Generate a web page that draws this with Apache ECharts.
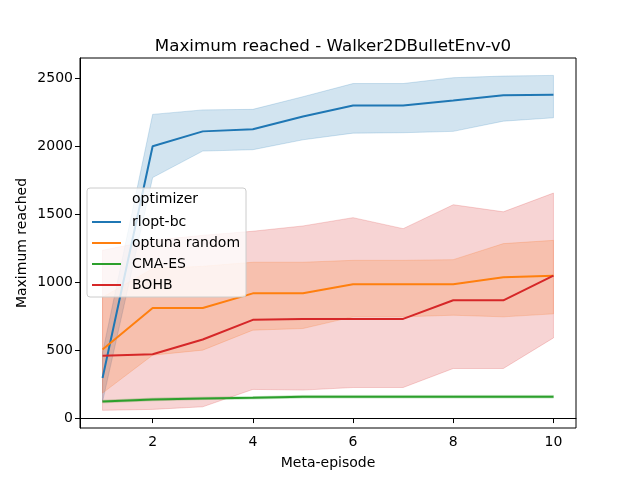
<!DOCTYPE html>
<html>
<head>
<meta charset="utf-8">
<script src="https://cdn.jsdelivr.net/npm/echarts@6/dist/echarts.min.js"></script>
<style>
  html, body { margin: 0; background: #fff; }
  #chart { width: 640px; height: 480px; }
</style>
</head>
<body>
<div id="chart"></div>
<script>
// data
const episodes = [1, 2, 3, 4, 5, 6, 7, 8, 9, 10];
const xTicks = [2, 4, 6, 8, 10];
const yTicks = [0, 500, 1000, 1500, 2000, 2500];

const rloptMean = [295, 2000, 2110, 2125, 2220, 2300, 2300, 2337, 2375, 2380];
const rloptLow  = [120, 1770, 1965, 1975, 2048, 2097, 2100, 2110, 2185, 2210];
const rloptHigh = [480, 2235, 2268, 2272, 2365, 2462, 2462, 2505, 2517, 2522];

const optunaMean = [505, 810, 810, 918, 918, 985, 985, 985, 1036, 1048];
const optunaLow  = [184, 463, 500, 647, 659, 745, 745, 757, 745, 767];
const optunaHigh = [890, 1100, 1117, 1147, 1147, 1161, 1161, 1166, 1284, 1308];

const cmaMean = [122, 137, 145, 149, 157, 157, 157, 157, 157, 157];
const cmaLow  = [112, 127, 136, 140, 147, 147, 147, 147, 147, 147];
const cmaHigh = [132, 147, 154, 158, 167, 167, 167, 167, 167, 167];

const bohbMean = [458, 470, 578, 723, 730, 730, 730, 867, 867, 1048];
const bohbLow  = [57, 64, 83, 211, 206, 225, 225, 365, 365, 590];
const bohbHigh = [1235, 1308, 1345, 1375, 1414, 1475, 1394, 1570, 1518, 1656];

const names = ['rlopt-bc', 'optuna random', 'CMA-ES', 'BOHB'];
const colors = ['#1f77b4', '#ff7f0e', '#2ca02c', '#d62728'];

function hexAlpha(hex, a) {
  const n = parseInt(hex.slice(1), 16);
  return 'rgba(' + (n >> 16) + ',' + ((n >> 8) & 255) + ',' + (n & 255) + ',' + a + ')';
}

// confidence band drawn as one polygon through the axes
function band(color, low, high) {
  return {
    type: 'custom',
    silent: true,
    z: 1,
    data: episodes.map((e, i) => [e, low[i], high[i]]),
    encode: { x: 0, y: [1, 2] },
    renderItem: (params, api) => {
      if (params.dataIndex !== 0) return null;
      const pts = [];
      episodes.forEach((e, i) => pts.push(api.coord([e, high[i]])));
      for (let i = episodes.length - 1; i >= 0; i--) pts.push(api.coord([episodes[i], low[i]]));
      return {
        type: 'polygon',
        shape: { points: pts },
        style: { fill: hexAlpha(color, 0.2), stroke: hexAlpha(color, 0.2), lineWidth: 1 }
      };
    }
  };
}

function line(name, color, vals) {
  return {
    type: 'line',
    name: name,
    z: 3,
    showSymbol: false,
    data: episodes.map((e, i) => [e, vals[i]]),
    lineStyle: { color: color, width: 2 },
    itemStyle: { color: color }
  };
}

const font = 'DejaVu Sans';
const chart = echarts.init(document.getElementById('chart'));
chart.setOption({
  animation: false,
  textStyle: { fontFamily: font },
  title: {
    text: 'Maximum reached - Walker2DBulletEnv-v0',
    left: 328, top: 33, textAlign: 'center',
    textStyle: { fontFamily: font, fontSize: 16.7, fontWeight: 'normal', color: '#000' }
  },
  grid: {
    left: 80, right: 64, top: 58, bottom: 52,
    show: true, borderColor: '#000', borderWidth: 1
  },
  xAxis: {
    type: 'value', min: 0.55, max: 10.45,
    name: 'Meta-episode', nameLocation: 'middle', nameGap: 28,
    nameTextStyle: { fontFamily: font, fontSize: 14, color: '#000' },
    splitLine: { show: false },
    axisLine: { lineStyle: { color: '#000' } },
    axisTick: { customValues: xTicks, length: 5, lineStyle: { color: '#000' } },
    axisLabel: { customValues: xTicks, fontFamily: font, fontSize: 14, color: '#000', margin: 7 }
  },
  yAxis: {
    type: 'value', min: -73, max: 2650,
    name: 'Maximum reached', nameLocation: 'middle', nameGap: 51, nameRotate: 90,
    nameMoveOverlap: false,
    nameTextStyle: { fontFamily: font, fontSize: 14, color: '#000' },
    splitLine: { show: false },
    axisLine: { show: true, lineStyle: { color: '#000' } },
    axisTick: { customValues: yTicks, length: 5, lineStyle: { color: '#000' } },
    axisLabel: {
      customValues: yTicks, fontFamily: font, fontSize: 14, color: '#000', margin: 7,
      formatter: v => String(v)
    }
  },
  legend: {
    data: names,
    orient: 'vertical',
    left: 87, top: 188,
    padding: [27, 6, 5, 5],
    itemGap: 7,
    itemWidth: 29, itemHeight: 2,
    icon: 'rect',
    backgroundColor: 'rgba(255,255,255,0.8)',
    borderColor: '#cccccc', borderWidth: 1, borderRadius: 3,
    textStyle: { fontFamily: font, fontSize: 14, color: '#000', padding: [0, 0, 0, 6] }
  },
  graphic: [{
    type: 'text', left: 132, top: 192, z: 100,
    style: { text: 'optimizer', font: '14px "DejaVu Sans"', fill: '#000' }
  }],
  series: [
    band(colors[0], rloptLow, rloptHigh),
    band(colors[1], optunaLow, optunaHigh),
    band(colors[2], cmaLow, cmaHigh),
    band(colors[3], bohbLow, bohbHigh),
    line(names[0], colors[0], rloptMean),
    line(names[1], colors[1], optunaMean),
    line(names[2], colors[2], cmaMean),
    line(names[3], colors[3], bohbMean)
  ]
});
</script>
</body>
</html>
